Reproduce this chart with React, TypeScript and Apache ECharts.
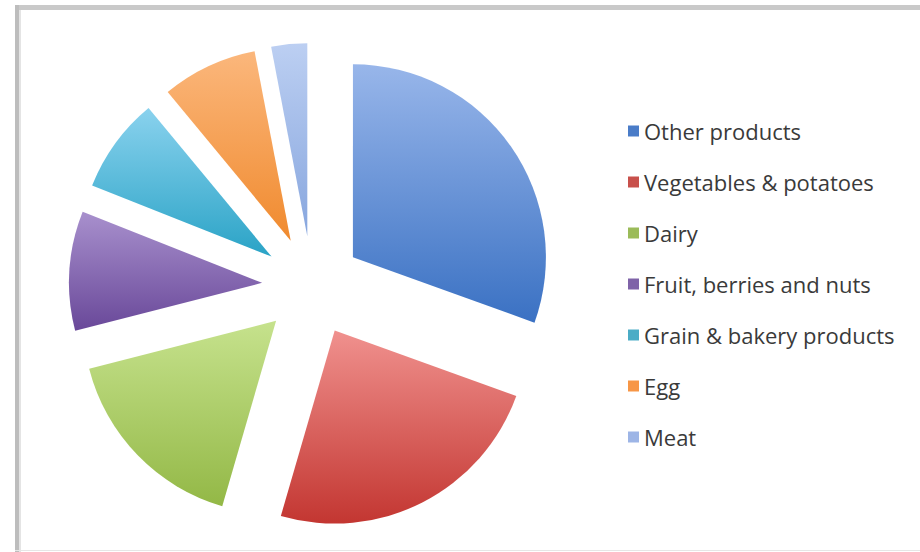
import React, { useEffect, useRef } from "react";
import * as echarts from "echarts";

const categories = [
  "Other products",
  "Vegetables & potatoes",
  "Dairy",
  "Fruit, berries and nuts",
  "Grain & bakery products",
  "Egg",
  "Meat",
];
const values = [30.5, 24, 16.5, 10, 8, 8, 3];
const topColors = ["#98b6ea", "#f0918e", "#c6e28d", "#a890cd", "#8ad2ee", "#fbb77c", "#bccff2"];
const bottomColors = ["#3a71c3", "#c33631", "#93b846", "#694899", "#2aa3c6", "#f08a2e", "#87a6de"];
const legendColors = ["#4a7cc8", "#c8504b", "#9bbb59", "#7f63a8", "#4bacc6", "#f79646", "#9db5e6"];

function grad(i: number) {
  return new echarts.graphic.LinearGradient(0, 0, 0, 1, [
    { offset: 0, color: topColors[i] },
    { offset: 1, color: bottomColors[i] },
  ]);
}

export default function App() {
  const ref = useRef<HTMLDivElement>(null);
  useEffect(() => {
    if (!ref.current) return;
    const chart = echarts.init(ref.current, null, { renderer: "svg" });
    chart.setOption({
      animation: false,
      backgroundColor: "#ffffff",
      graphic: [
        { type: "rect", shape: { x: 15, y: 5, width: 905, height: 5 }, style: { fill: "#c9c9c9" } },
        { type: "rect", shape: { x: 15, y: 5, width: 4, height: 547 }, style: { fill: "#bdbdbd" } },
        { type: "rect", shape: { x: 19, y: 10, width: 2, height: 542 }, style: { fill: "#e4e4e4" } },
        { type: "rect", shape: { x: 15, y: 550, width: 905, height: 1 }, style: { fill: "#e6e6e6" } },
      ],
      legend: {
        orient: "vertical",
        left: 623,
        top: 113,
        itemWidth: 11,
        itemHeight: 11,
        itemGap: 25,
        icon: "rect",
        selectedMode: false,
        data: categories.map((c, i) => ({ name: c, itemStyle: { color: legendColors[i] } })),
        textStyle: {
          fontFamily: "Open Sans",
          fontSize: 22,
          color: "#3a3a3a",
          lineHeight: 26,
        },
      },
      series: [
        {
          type: "pie",
          center: [312, 286],
          radius: 193,
          startAngle: 90,
          clockwise: true,
          selectedMode: "multiple",
          selectedOffset: 50,
          label: { show: false },
          labelLine: { show: false },
          emphasis: { disabled: true },
          data: categories.map((c, i) => ({
            name: c,
            value: values[i],
            selected: true,
            itemStyle: { color: grad(i) },
            select: { itemStyle: { color: grad(i) } },
          })),
        },
      ],
    });
    return () => chart.dispose();
  }, []);
  return (
    <div
      ref={ref}
      style={{ position: "fixed", left: 0, top: 0, width: 920, height: 552 }}
    />
  );
}
